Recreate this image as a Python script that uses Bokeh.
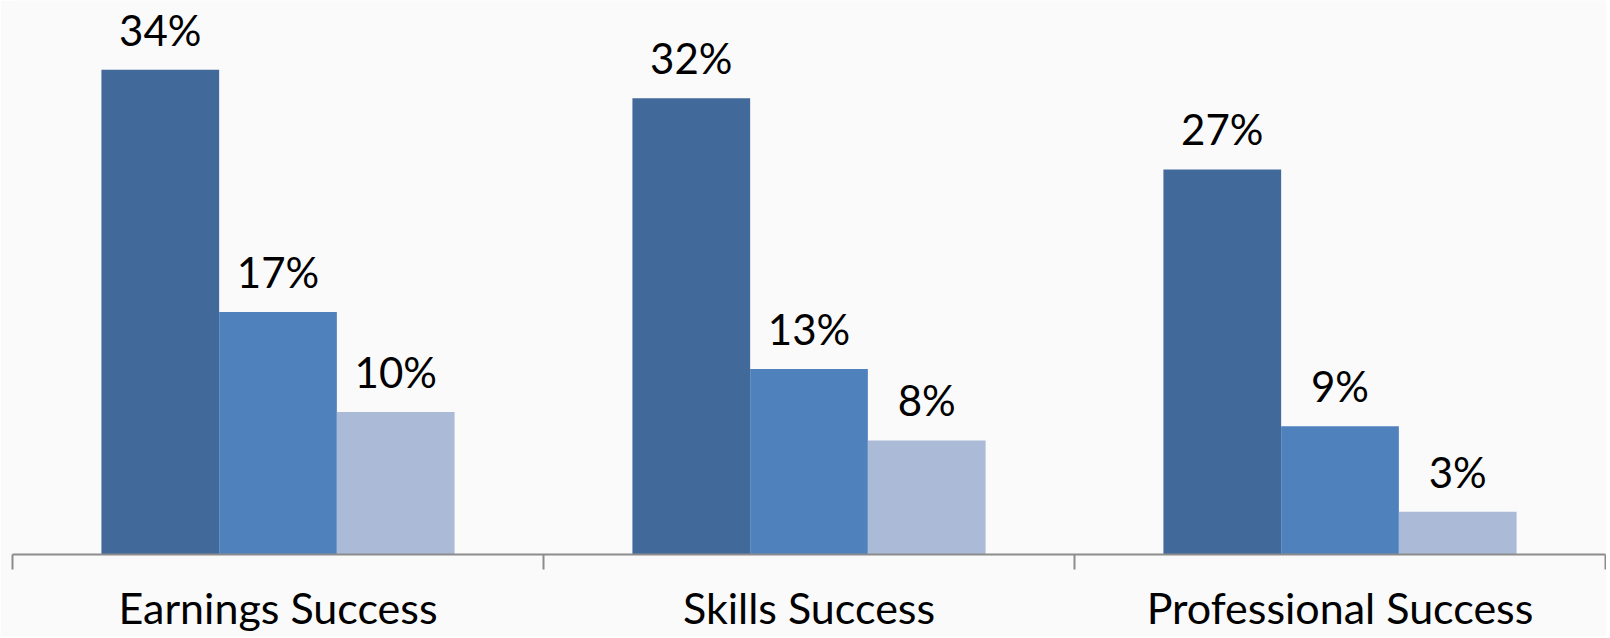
from bokeh.plotting import figure
from bokeh.models import (Range1d, LinearAxis, FixedTicker,
                          ColumnDataSource, LabelSet, CustomJSTickFormatter)
from bokeh.transform import dodge
from bokeh.core.properties import value
from bokeh.embed import file_html
from bokeh.resources import INLINE

# ---- data ----
categories = ["Earnings Success", "Skills Success", "Professional Success"]
series_a = [34, 32, 27]
series_b = [17, 13, 9]
series_c = [10, 8, 3]

colors = ["#416A9B", "#4F81BD", "#AABAD7"]
BG = "#FAFAFA"
FONT = "Lato"

n = len(categories)
centers = [i + 0.5 for i in range(n)]
src = ColumnDataSource(dict(
    xc=centers,
    a=series_a, b=series_b, c=series_c,
    la=[f"{v}%" for v in series_a],
    lb=[f"{v}%" for v in series_b],
    lc=[f"{v}%" for v in series_c],
))

p = figure(x_range=Range1d(0, n), y_range=Range1d(0, 38.85),
           width=1606, height=636, output_backend="svg", toolbar_location=None,
           x_axis_location=None, y_axis_location=None,
           min_border_left=12, min_border_right=1, min_border_top=0, min_border_bottom=82,
           background_fill_color=BG, border_fill_color=BG, outline_line_color=None)
p.grid.grid_line_color = None

bw = 0.2217
for key, lab, off, col in [("a", "la", -bw, colors[0]), ("b", "lb", 0.0, colors[1]), ("c", "lc", bw, colors[2])]:
    p.vbar(x=dodge("xc", off), top=key, width=bw, source=src,
           fill_color=col, line_color=None)
    p.add_layout(LabelSet(x=dodge("xc", off), y=key, text=lab, source=src,
                          text_align="center", text_baseline="alphabetic", y_offset=24,
                          text_font=value(FONT), text_font_size="42px", text_color="black"))

# axis line + boundary ticks between categories
tick_axis = LinearAxis(ticker=FixedTicker(ticks=list(range(n + 1))),
                       formatter=CustomJSTickFormatter(code="return ''"),
                       major_label_text_font_size="1px", major_label_standoff=0,
                       major_tick_in=0, major_tick_out=15,
                       minor_tick_line_color=None,
                       axis_line_color="#8c8c8c", axis_line_width=2,
                       major_tick_line_color="#8c8c8c", major_tick_line_width=2)
p.add_layout(tick_axis, "below")

# category names
cat_axis = LinearAxis(ticker=FixedTicker(ticks=centers),
                      formatter=CustomJSTickFormatter(args=dict(names=categories),
                                                      code="return names[Math.floor(tick)]"),
                      axis_line_color=None, major_tick_line_color=None, minor_tick_line_color=None,
                      major_tick_in=0, major_tick_out=0,
                      major_label_text_font=FONT, major_label_text_font_size="43px",
                      major_label_text_color="black", major_label_standoff=12)
p.add_layout(cat_axis, "below")

open("out.html", "w").write(file_html(p, INLINE))
